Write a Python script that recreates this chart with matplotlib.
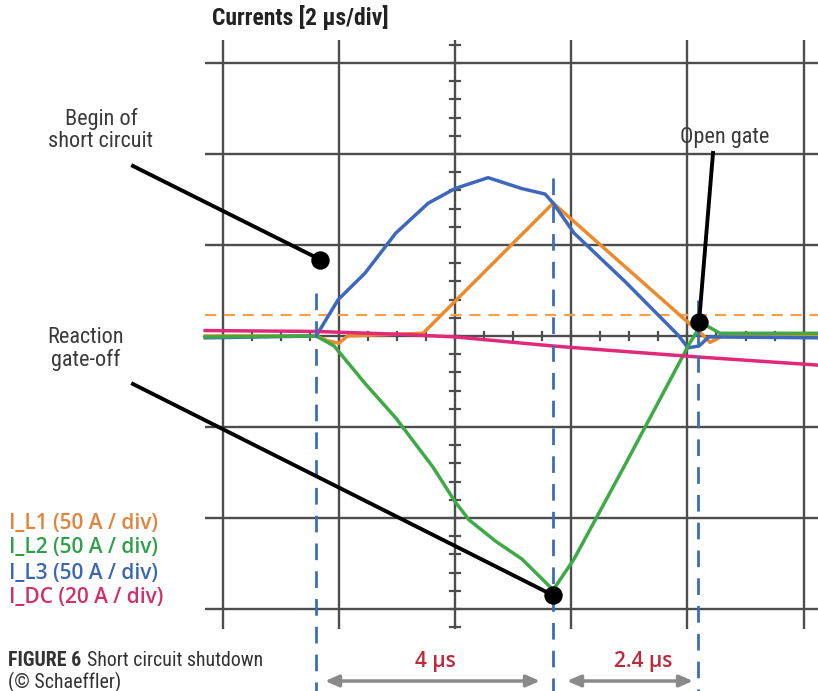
import matplotlib
matplotlib.use("Agg")
import matplotlib.pyplot as plt
import matplotlib.transforms as mtransforms
from matplotlib import font_manager as fm
import numpy as np

# ---------------- data (time in µs, current in divisions) ----------------
t_L1 = [-4.3, -2.39, -2.2, -2.0, -1.85, -0.55, 1.69, 4.10, 4.25, 4.39, 4.6, 6.25]
i_L1 = [0.0, 0.0, -0.05, -0.08, 0.0, 0.03, 1.46, 0.10, 0.02, -0.07, 0.0, 0.0]

t_L2 = [-4.3, -2.39, -2.08, -1.55, -1.02, -0.38, 0.0, 0.24, 0.71, 1.15, 1.69,
        2.05, 2.94, 4.03, 4.20, 4.34, 4.56, 6.25]
i_L2 = [-0.01, 0.0, -0.11, -0.52, -0.90, -1.44, -1.82, -2.02, -2.26, -2.45, -2.79,
        -2.45, -1.40, -0.09, 0.09, 0.11, 0.03, 0.03]

t_L3 = [-4.3, -2.39, -2.01, -1.55, -1.02, -0.46, 0.0, 0.57, 1.15, 1.55, 1.69,
        2.05, 2.94, 3.84, 4.01, 4.20, 4.37, 6.25]
i_L3 = [-0.02, 0.0, 0.40, 0.69, 1.13, 1.46, 1.62, 1.74, 1.62, 1.56, 1.46,
        1.13, 0.59, 0.01, -0.13, -0.11, -0.01, -0.02]

t_DC = [-4.3, -2.39, -1.0, 0.0, 1.69, 2.5, 4.17, 6.25]
i_DC = [0.06, 0.05, 0.02, -0.01, -0.11, -0.15, -0.23, -0.32]

threshold = 0.23                 # orange dashed level (div)
events_t = [-2.39, 1.69, 4.18]   # begin SC, reaction gate-off, open gate
dots_t = [-2.32, 1.69, 4.20]
dots_y = [0.84, -2.85, 0.15]

legend_labels = ["I_L1 (50 A / div)", "I_L2 (50 A / div)",
                 "I_L3 (50 A / div)", "I_DC (20 A / div)"]
legend_colors = ["#E4813A", "#2FA04A", "#3A66B5", "#D0306A"]
interval_labels = ["4 µs", "2.4 µs"]

# ---------------- fonts ----------------
def pick(cands):
    names = {f.name for f in fm.fontManager.ttflist}
    for c in cands:
        if c in names:
            return c
    return "DejaVu Sans"

nar = pick(["Liberation Sans Narrow", "Roboto Condensed", "Open Sans Condensed",
            "Noto Sans Condensed", "DejaVu Sans"])
condensed_ok = any(f.name == "DejaVu Sans" and f.stretch in ("condensed", 500) or
                   (f.name == "DejaVu Sans" and "Condensed" in f.fname)
                   for f in fm.fontManager.ttflist)
stretch = "condensed" if (nar == "DejaVu Sans" and condensed_ok) else "normal"
scale = 1.0 if (nar != "DejaVu Sans" or condensed_ok) else 0.9

# ---------------- figure ----------------
W, H = 818, 691
fig = plt.figure(figsize=(W / 100, H / 100), dpi=100)
ax = fig.add_axes([0, 0, 1, 1])
PXX, PXY = 58.1, 91.0   # pixels per µs, pixels per div
X0, Y0 = 455, 336       # pixel origin
ax.set_xlim(-X0 / PXX, (W - X0) / PXX)
ax.set_ylim((Y0 - H) / PXY, Y0 / PXY)
ax.axis("off")

PX = mtransforms.Affine2D().scale(1, -1).translate(0, H)

grid_c = "#4d4d4d"
for xv in [-4, -2, 0, 2, 4, 6]:
    ax.plot([xv, xv], [-3.22, 3.25], color=grid_c, lw=1.7, zorder=1, solid_capstyle="butt")
for yv in [-3, -2, -1, 0, 1, 2, 3]:
    ax.plot([-4.3, 6.3], [yv, yv], color=grid_c, lw=1.7, zorder=1, solid_capstyle="butt")
for yv in np.arange(-16, 17) * 0.2:
    ax.plot([-0.085, 0.085], [yv, yv], color=grid_c, lw=1.6, zorder=1)
for xv in np.arange(-8, 13) * 0.5:
    ax.plot([xv, xv], [-0.045, 0.045], color=grid_c, lw=1.6, zorder=1)

ax.plot([-4.3, 6.3], [threshold, threshold], color="#F0A04E", lw=1.6,
        dashes=(5, 3.5), zorder=2)

ax.plot(t_L1, i_L1, color="#EC8A2C", lw=2.5, zorder=3)
ax.plot(t_L3, i_L3, color="#3E68BC", lw=2.5, zorder=4)
ax.plot(t_L2, i_L2, color="#3EAA46", lw=2.5, zorder=5)
ax.plot(t_DC, i_DC, color="#E2287A", lw=2.5, zorder=6)

ev_top = [(Y0 - 293) / PXY, (Y0 - 178) / PXY, (Y0 - 300) / PXY]
for te, top in zip(events_t, ev_top):
    ax.plot([te, te], [top, (Y0 - H) / PXY], color="#3C6DB5", lw=2.0,
            dashes=(6, 4), zorder=7)

ann_start = [(133, 166), (133, 384), (713, 153)]
for (sx, sy), k in zip(ann_start, [0, 1, 2]):
    ax.plot([(sx - X0) / PXX, dots_t[k]], [(Y0 - sy) / PXY, dots_y[k]],
            color="black", lw=2.8, zorder=8)
ax.scatter(dots_t, dots_y, s=150, color="black", zorder=9)

txt_c = "#3a3a3a"
fs = 16 * scale
ax.text(101, 130, "Begin of\nshort circuit", transform=PX, ha="center", va="center",
        fontsize=fs, family=nar, stretch=stretch, color=txt_c, linespacing=1.1)
ax.text(86, 349, "Reaction\ngate-off", transform=PX, ha="center", va="center",
        fontsize=fs, family=nar, stretch=stretch, color=txt_c, linespacing=1.1)
ax.text(725, 137, "Open gate", transform=PX, ha="center", va="center",
        fontsize=fs, family=nar, stretch=stretch, color=txt_c)
ax.text(212, 18, "Currents [2 µs/div]", transform=PX, ha="left", va="center",
        fontsize=17 * scale, family=nar, stretch=stretch, weight="bold", color="#222222")

for i, (lab, c) in enumerate(zip(legend_labels, legend_colors)):
    ax.text(9, 523 + 25 * i, lab, transform=PX, ha="left", va="center",
            fontsize=15, family="Open Sans", weight="semibold", color=c)

cap_fs = 14.3 * scale
fig_t = ax.text(8, 661, "FIGURE 6", transform=PX, ha="left", va="center",
                fontsize=cap_fs, family=nar, stretch=stretch, weight="bold", color="#333333")
ax.annotate("Short circuit shutdown", xy=(1, 0.5), xycoords=fig_t,
            xytext=(4, 0), textcoords="offset points", ha="left", va="center",
            fontsize=cap_fs, family=nar, stretch=stretch, color="#333333")
ax.text(8, 682, "(© Schaeffler)", transform=PX, ha="left", va="center",
        fontsize=cap_fs, family=nar, stretch=stretch, color="#333333")

arrow_spans = [(325, 540), (567, 693)]
label_x = [435, 643]
for (xa, xb), lab, lx in zip(arrow_spans, interval_labels, label_x):
    ax.annotate("", xy=(xb, 681), xytext=(xa, 681), xycoords=PX, textcoords=PX,
                arrowprops=dict(arrowstyle="<|-|>,head_length=0.8,head_width=0.35",
                                color="#8a8a8a", lw=2.5, shrinkA=0, shrinkB=0))
    ax.text(lx, 661, lab, transform=PX, ha="center", va="center", fontsize=15,
            family="Open Sans", weight="semibold", color="#C0283C")

fig.savefig("out.png", dpi=100)
